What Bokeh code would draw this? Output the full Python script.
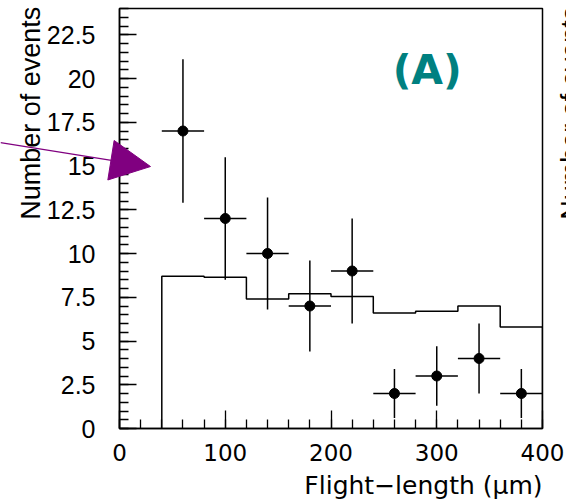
import numpy as np
from bokeh.plotting import figure
from bokeh.models import (ColumnDataSource, Arrow, NormalHead, Label,
                          FixedTicker, Range1d, GridBox)
from bokeh.embed import file_html
from bokeh.resources import INLINE

# data points (flight-length bin centres, events, errors)
x_centers = [60, 100, 140, 180, 220, 260, 300, 340, 380]
counts = [17, 12, 10, 7, 9, 2, 3, 4, 2]
count_err = [4.1, 3.5, 3.2, 2.6, 3.0, 1.4, 1.7, 2.0, 1.4]
x_half_width = [20, 20, 20, 20, 20, 20, 20, 20, 20]

# expected histogram (bin edges and contents)
hist_edges = [40, 80, 120, 160, 200, 240, 280, 320, 360, 400]
hist_values = [8.7, 8.65, 7.4, 7.7, 7.55, 6.6, 6.7, 7.0, 5.8]

y_ticks = [0, 2.5, 5, 7.5, 10, 12.5, 15, 17.5, 20, 22.5]
x_ticks = [0, 100, 200, 300, 400]

W, H = 566, 502
p = figure(width=W, height=H, output_backend="svg", toolbar_location=None,
           x_range=Range1d(0, 400), y_range=Range1d(0, 24),
           min_border_left=119, min_border_right=24, min_border_top=8,
           min_border_bottom=74)
p.frame_align = False
p.grid.visible = False
p.outline_line_color = "black"
p.outline_line_width = 1.5
p.background_fill_color = "white"
p.border_fill_color = "white"

# axes styling
for ax in (p.xaxis[0], p.yaxis[0]):
    ax.axis_line_color = "black"
    ax.axis_line_width = 1.5
    ax.major_tick_line_color = "black"
    ax.minor_tick_line_color = "black"
    ax.major_tick_line_width = 1.3
    ax.minor_tick_line_width = 1.3
    ax.major_tick_out = 0
    ax.minor_tick_out = 0
    ax.major_label_text_color = "black"

p.xaxis.ticker = FixedTicker(ticks=x_ticks,
                             minor_ticks=list(range(0, 401, 20)))
p.xaxis.major_tick_in = 18
p.xaxis.minor_tick_in = 9
p.xaxis.major_label_text_font = "DejaVu Sans"
p.xaxis.major_label_text_font_size = "23px"
p.xaxis.major_label_standoff = 15

p.yaxis.ticker = FixedTicker(ticks=y_ticks,
                             minor_ticks=[i * 0.5 for i in range(0, 49)])
p.yaxis.major_tick_in = 17
p.yaxis.minor_tick_in = 9
p.yaxis.major_label_text_font = "Liberation Sans"
p.yaxis.major_label_text_font_size = "25px"
p.yaxis.major_label_standoff = 24
p.yaxis.major_label_overrides = {0: "0", 5: "5", 10: "10", 15: "15", 20: "20"}

# histogram step line
hx = [hist_edges[0]]
hy = [0]
for i, v in enumerate(hist_values):
    hx += [hist_edges[i], hist_edges[i + 1]]
    hy += [v, v]
hx.append(hist_edges[-1])
hy.append(0)
p.line(hx, hy, line_color="black", line_width=1.5)

# data points with errors
src = ColumnDataSource(dict(
    x=x_centers, y=counts,
    ylo=[c - e for c, e in zip(counts, count_err)],
    yhi=[c + e for c, e in zip(counts, count_err)],
    xlo=[x - w for x, w in zip(x_centers, x_half_width)],
    xhi=[x + w for x, w in zip(x_centers, x_half_width)],
))
p.segment(x0="x", y0="ylo", x1="x", y1="yhi", source=src,
          line_color="black", line_width=1.5)
p.segment(x0="xlo", y0="y", x1="xhi", y1="y", source=src,
          line_color="black", line_width=1.5)
p.scatter(x="x", y="y", source=src, size=10, color="black")

# label (A)
p.add_layout(Label(x=291, y=20.5, text="(A)", text_color="#008080",
                   text_font="DejaVu Sans", text_font_size="41px",
                   text_font_style="bold", text_align="center",
                   text_baseline="middle"))

# transparent overlay covering the whole canvas, same data mapping as the
# main frame, for texts and the arrow that lie outside the frame
px_per_x = 423 / 400.0
px_per_y = 420 / 24.0
ov = figure(width=W, height=H, output_backend="svg", toolbar_location=None,
            x_range=Range1d(-119 / px_per_x, (W - 119) / px_per_x),
            y_range=Range1d(-(H - 428) / px_per_y, 428 / px_per_y),
            min_border=0, min_border_left=0, min_border_right=0,
            min_border_top=0, min_border_bottom=0,
            x_axis_location=None, y_axis_location=None)
ov.frame_align = False
ov.grid.visible = False
ov.outline_line_color = None
ov.background_fill_color = None
ov.border_fill_color = None

ov.add_layout(Label(x=-98, y=24.1, text="Number of events", angle=np.pi / 2,
                    text_font="Liberation Sans", text_font_size="27px",
                    text_align="right", text_baseline="top",
                    text_color="black"))
ov.add_layout(Label(x=412.5, y=24.1, text="Number of events", angle=np.pi / 2,
                    text_font="Liberation Sans", text_font_size="27px",
                    text_align="right", text_baseline="top",
                    text_color="black"))
ov.add_layout(Label(x=400, y=-3.25, text="Flight\u2212length (\u03bcm)",
                    text_font="DejaVu Sans", text_font_size="25px",
                    text_align="right", text_baseline="middle",
                    text_color="black"))
ov.add_layout(Arrow(x_start=-112.5, y_start=16.34, x_end=29.3, y_end=14.97,
                    line_color="#800080", line_width=1.3,
                    end=NormalHead(size=40, fill_color="#800080",
                                   line_color="#800080")))

layout = GridBox(children=[(p, 0, 0), (ov, 0, 0)])
open("out.html", "w").write(file_html(layout, INLINE))
